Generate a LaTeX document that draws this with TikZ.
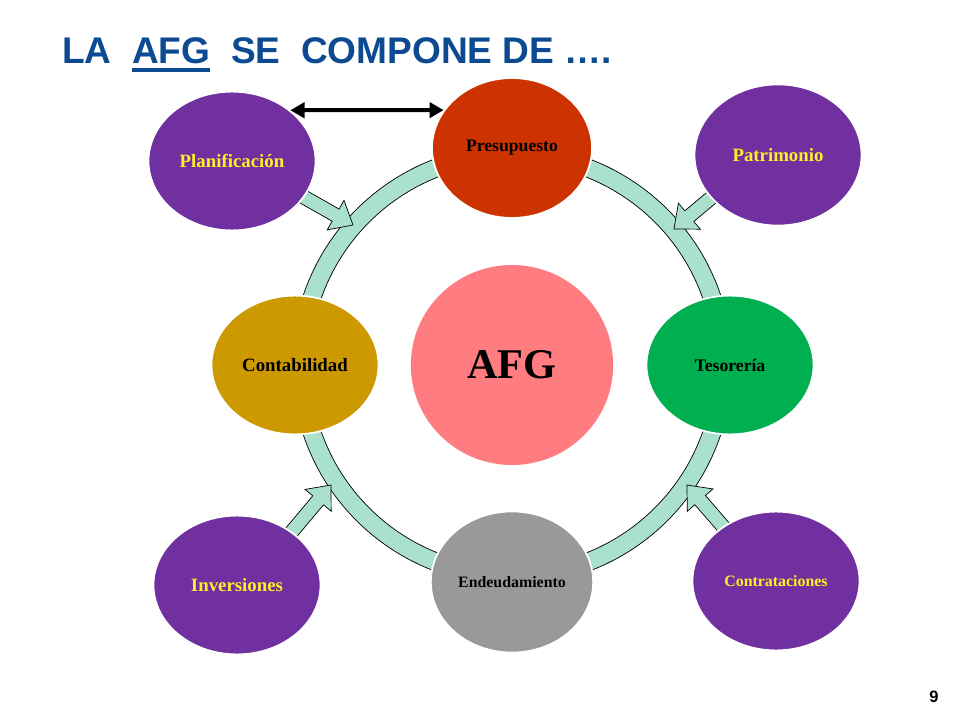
\documentclass[tikz,border=0pt]{standalone}
\usepackage{fontspec}
\setmainfont{Liberation Serif}
\newfontfamily\titlefont{Liberation Sans}
\usetikzlibrary{shapes.geometric,arrows.meta}

\definecolor{titleblue}{RGB}{12,74,146}
\definecolor{purplebox}{HTML}{7030A0}
\definecolor{redbox}{HTML}{CC3300}
\definecolor{goldbox}{HTML}{CC9900}
\definecolor{greenbox}{HTML}{00B050}
\definecolor{pinkbox}{HTML}{FF7C80}
\definecolor{greybox}{HTML}{999999}
\definecolor{mint}{RGB}{170,225,205}
\definecolor{labelyellow}{RGB}{255,238,40}

\newcommand\titleul[1]{\setbox0\hbox{#1}\rlap{\rule[-7.6pt]{\wd0}{3.4pt}}\box0}

\begin{document}
\begin{tikzpicture}[x=0.85pt,y=-0.85pt]
	\tikzset{
		area/.style={ellipse, draw=white, line width=1.5pt, inner sep=0pt, minimum width=142pt, minimum height=118pt, font=\bfseries},
		outer/.style={area, fill=purplebox, text=labelyellow},
		feed/.style={fill=mint, draw=black, line width=0.6pt},
		pics/feedarrow/.style={code={
			\draw[feed] (0,0) -- (-20,17) -- (-20,7) -- (-75,7) -- (-75,-7) -- (-20,-7) -- (-20,-17) -- cycle;
		}}
	}
	\fill[white] (0,0) rectangle (960,720);
	\useasboundingbox (0,0) rectangle (960,720);

	\node [anchor=base west, inner sep=0pt, text=titleblue, font=\titlefont\bfseries\fontsize{31.5}{36}\selectfont] (title) at (62,63) {LA\ \ \titleul{AFG}\ \ SE\ \ COMPONE DE \dots.};
	\node [inner sep=0pt, font=\titlefont\bfseries\fontsize{14}{16}\selectfont] (pagenum) at (934,697) {9};

	% ring
	\coordinate (hub) at (512,365);
	\draw [feed, even odd rule] (hub) circle [radius=220] (hub) circle [radius=202];

	% block arrows into the ring
	\pic [rotate=-29.6] at (353,225) {feedarrow}; % planificacion
	\pic [rotate=-140] at (674,229) {feedarrow}; % patrimonio
	\pic [rotate=50] at (331,485) {feedarrow}; % inversiones
	\pic [rotate=131] at (687,485) {feedarrow}; % contrataciones

	\node [area, fill=redbox, minimum width=136pt, minimum height=119pt, font=\bfseries\fontsize{15}{17}\selectfont] (pres) at (512,148) {Presupuesto};
	\node [area, fill=goldbox, font=\bfseries\fontsize{16}{18}\selectfont] (conta) at (295,365) {Contabilidad};
	\node [area, fill=greenbox, font=\bfseries\fontsize{15}{17}\selectfont] (teso) at (730,365) {Tesorería};
	\node [area, fill=greybox, minimum width=138pt, minimum height=120pt, font=\bfseries\fontsize{13.5}{16}\selectfont] (ende) at (512,582) {Endeudamiento};
	\node [area, fill=pinkbox, draw=none, minimum width=172pt, minimum height=170pt, font=\bfseries\fontsize{36}{40}\selectfont] (afg) at (512,365) {AFG};

	\node [outer, font=\bfseries\fontsize{16}{18}\selectfont] (plan) at (232,161) {Planificación};
	\node [outer, minimum height=120pt, font=\bfseries\fontsize{16}{18}\selectfont] (patr) at (778,155) {Patrimonio};
	\node [outer, font=\bfseries\fontsize{16}{18}\selectfont] (inver) at (237,585) {Inversiones};
	\node [outer, font=\bfseries\fontsize{13.5}{16}\selectfont] (contr) at (776,581) {Contrataciones};

	\draw [line width=3.4pt, {Triangle[length=12pt,width=13pt]}-{Triangle[length=12pt,width=13pt]}] (plan.41) -- (pres.151);
\end{tikzpicture}
\end{document}
